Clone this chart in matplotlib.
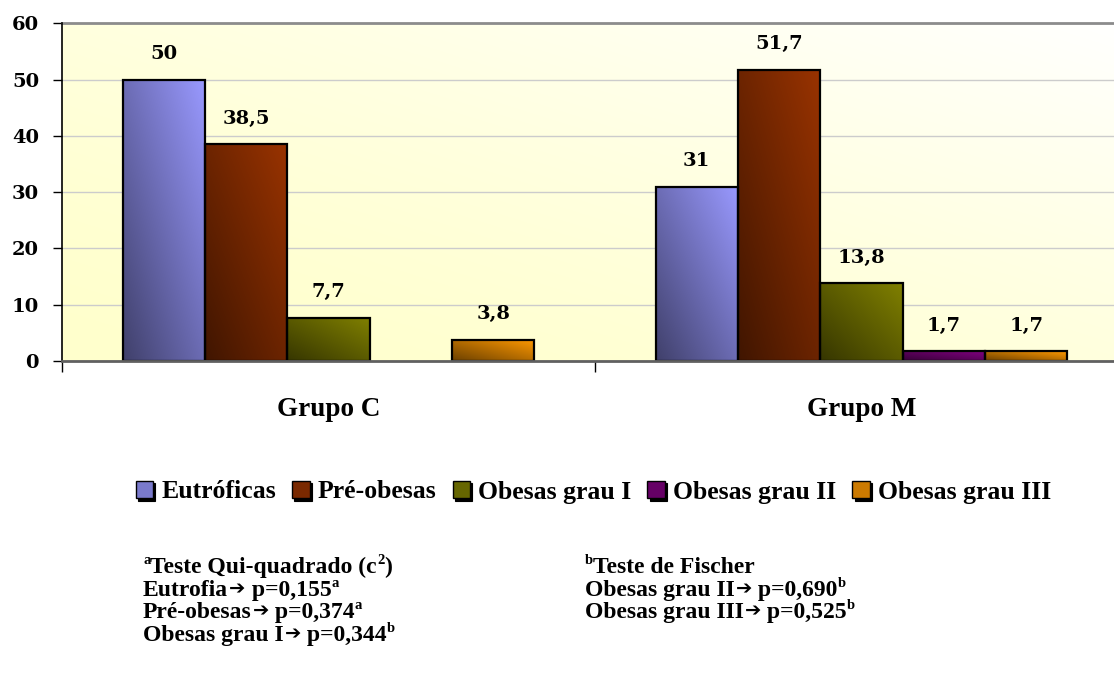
import numpy as np
import matplotlib
matplotlib.use("Agg")
import matplotlib.pyplot as plt
from matplotlib.patches import Rectangle
from matplotlib.legend_handler import HandlerBase
from matplotlib.colors import to_rgb
from matplotlib.transforms import IdentityTransform
from matplotlib.ticker import FixedLocator, NullFormatter, FixedFormatter

# ---- data -------------------------------------------------------------
groups = ["Grupo C", "Grupo M"]
series = ["Eutróficas", "Pré-obesas", "Obesas grau I", "Obesas grau II", "Obesas grau III"]
grupo_c = [50, 38.5, 7.7, 0, 3.8]
grupo_m = [31, 51.7, 13.8, 1.7, 1.7]
colors = ["#9999FF", "#993300", "#808000", "#800080", "#FF9900"]
y_ticks = [0, 10, 20, 30, 40, 50, 60]

# ---- figure / axes ----------------------------------------------------
W, H = 1114, 680
fig = plt.figure(figsize=(W / 100, H / 100), dpi=100)
ax_left, ax_right, ax_top, ax_bottom = 62, 1128, 23.4, 361
ax = fig.add_axes([ax_left / W, (H - ax_bottom) / H,
                   (ax_right - ax_left) / W, (ax_bottom - ax_top) / H])

SERIF_WIDE = "DejaVu Serif"
SERIF = "Liberation Serif"

# pale yellow background fading towards white at the top right
gx, gy = np.meshgrid(np.linspace(0, 1, 200), np.linspace(0, 1, 100))
t = np.clip((gx + gy) / 2, 0, 1) ** 1.5
c0 = np.array(to_rgb("#FFFFCC"))
c1 = np.array([1.0, 1.0, 1.0])
bg = c0[None, None, :] * (1 - t[..., None]) + c1[None, None, :] * t[..., None]
ax.imshow(bg, extent=[0, 1, 0, 1], transform=ax.transAxes, origin="lower",
          aspect="auto", zorder=0, interpolation="bilinear")

# ---- bars with diagonal gradient fill ---------------------------------
w = 0.1545
values = [grupo_c, grupo_m]
u, v = np.meshgrid(np.linspace(0, 1, 64), np.linspace(0, 1, 64))
tt = (u + v) / 2


def gradient(col):
    light = np.array(to_rgb(col))
    dark = light * 0.42
    return dark[None, None, :] * (1 - tt[..., None]) + light[None, None, :] * tt[..., None]


for i, (name, col) in enumerate(zip(series, colors)):
    grad = gradient(col)
    for j in range(len(groups)):
        val = values[j][i]
        if val <= 0:
            continue
        x = j + (i - 2) * w
        bar = ax.bar(x, val, width=w, facecolor="none", edgecolor="black",
                     linewidth=1.6, zorder=4)[0]
        img = ax.imshow(grad, extent=[x - w / 2, x + w / 2, 0, val], origin="lower",
                        aspect="auto", zorder=3, interpolation="bilinear")
        img.set_clip_path(bar)
        label = f"{val:g}".replace(".", ",")
        ax.annotate(label, xy=(x, val), xytext=(0, 15), textcoords="offset points",
                    ha="center", va="baseline", fontsize=14, fontweight="bold",
                    family=SERIF_WIDE, zorder=5)

ax.set_xlim(-0.5, 1.5)
ax.set_ylim(0, 60)

# ---- axes styling -----------------------------------------------------
ax.yaxis.set_major_locator(FixedLocator(y_ticks))
ax.yaxis.grid(True, color="#CCCCCC", linewidth=1, zorder=1)
ax.tick_params(axis="y", direction="out", length=6.5, width=1, color="black", pad=10)
for lab in ax.get_yticklabels():
    lab.set_family(SERIF_WIDE)
    lab.set_fontweight("bold")
    lab.set_fontsize(14)

ax.xaxis.set_major_locator(FixedLocator([-0.5, 0.5, 1.5]))
ax.xaxis.set_major_formatter(NullFormatter())
ax.xaxis.set_minor_locator(FixedLocator([0, 1]))
ax.xaxis.set_minor_formatter(FixedFormatter(groups))
ax.tick_params(axis="x", which="major", direction="out", length=8, width=1, color="black")
ax.tick_params(axis="x", which="minor", length=0, pad=26)
for lab in ax.get_xticklabels(minor=True):
    lab.set_family(SERIF)
    lab.set_fontweight("bold")
    lab.set_fontsize(19.5)

ax.spines["left"].set_color("black")
ax.spines["left"].set_linewidth(1.2)
ax.spines["left"].set_zorder(6)
ax.spines["bottom"].set_color("#606060")
ax.spines["bottom"].set_linewidth(2)
ax.spines["bottom"].set_zorder(6)
ax.spines["top"].set_color("#8C8C8C")
ax.spines["top"].set_linewidth(2)
ax.spines["right"].set_visible(False)


# ---- legend with shadowed boxes ---------------------------------------
class ShadowBox(HandlerBase):
    def create_artists(self, legend, orig_handle, xdescent, ydescent,
                       width, height, fontsize, trans):
        sh = 1.6
        shadow = Rectangle((-xdescent + sh, -ydescent - sh), width, height,
                           facecolor="black", edgecolor="black", linewidth=0.8,
                           transform=trans)
        box = Rectangle((-xdescent, -ydescent), width, height,
                        facecolor=orig_handle.get_facecolor(), edgecolor="black",
                        linewidth=1.0, transform=trans)
        return [shadow, box]


handles = []
for col in colors:
    c = np.array(to_rgb(col)) * 0.8
    handles.append(Rectangle((0, 0), 1, 1, facecolor=c))

fig.legend(handles, series, loc="center", bbox_to_anchor=(593.5 / W, 1 - 492 / H),
           ncol=5, frameon=False, borderpad=0,
           prop={"family": SERIF, "weight": "bold", "size": 18.5},
           handlelength=0.68, handleheight=0.68, handletextpad=0.32,
           columnspacing=0.62, handler_map={Rectangle: ShadowBox()})

# ---- statistical notes -----------------------------------------------
renderer = fig.canvas.get_renderer()
NOTE_SIZE = 17
SUP_SIZE = 10.5
ARROW = "\u2794"


def note_line(x, baseline, parts):
    """Draw a line made of pieces: ('n', text), ('s', superscript), ('a', arrow)."""
    y_top = H - baseline
    for kind, s in parts:
        if kind == "s":
            txt = fig.text(x, y_top + 9, s, transform=IdentityTransform(),
                           family=SERIF, fontweight="bold", fontsize=SUP_SIZE,
                           va="baseline", ha="left")
        elif kind == "a":
            txt = fig.text(x + 1, y_top + 2, s, transform=IdentityTransform(),
                           family="DejaVu Sans", fontweight="bold", fontsize=14,
                           va="baseline", ha="left")
        else:
            txt = fig.text(x, y_top, s, transform=IdentityTransform(),
                           family=SERIF, fontweight="bold", fontsize=NOTE_SIZE,
                           va="baseline", ha="left")
        bb = txt.get_window_extent(renderer)
        x = bb.x1


left_x, right_x = 143, 585
rows = [573, 596, 618, 641]
note_line(left_x, rows[0], [("s", "a"), ("n", "Teste Qui-quadrado (c"), ("s", "2"), ("n", ")")])
note_line(left_x, rows[1], [("n", "Eutrofia"), ("a", ARROW), ("n", " p=0,155"), ("s", "a")])
note_line(left_x, rows[2], [("n", "Pré-obesas"), ("a", ARROW), ("n", " p=0,374"), ("s", "a")])
note_line(left_x, rows[3], [("n", "Obesas grau I"), ("a", ARROW), ("n", " p=0,344"), ("s", "b")])
note_line(right_x, rows[0], [("s", "b"), ("n", "Teste de Fischer")])
note_line(right_x, rows[1], [("n", "Obesas grau II"), ("a", ARROW), ("n", " p=0,690"), ("s", "b")])
note_line(right_x, rows[2], [("n", "Obesas grau III"), ("a", ARROW), ("n", " p=0,525"), ("s", "b")])

fig.savefig("out.png", dpi=100)
